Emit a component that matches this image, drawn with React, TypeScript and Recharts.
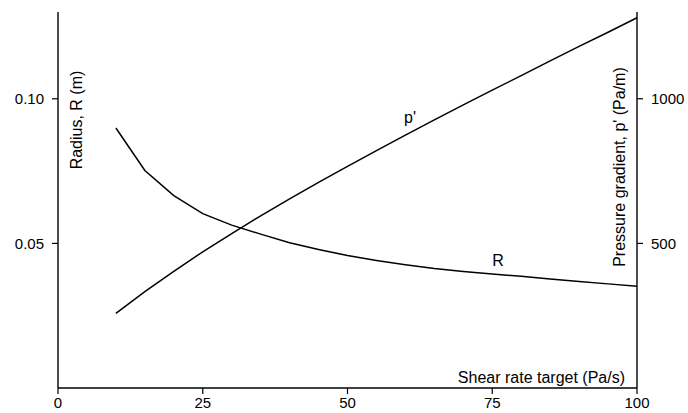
import React from 'react';
import { LineChart, Line, XAxis, YAxis, ReferenceDot, Label } from 'recharts';

const shearRate = [10, 15, 20, 25, 30, 35, 40, 45, 50, 55, 60, 65, 70, 75, 80, 85, 90, 95, 100];
const radius = [0.0899, 0.0752, 0.0665, 0.0603, 0.0563, 0.0532, 0.0502, 0.0479, 0.0458, 0.0441, 0.0426, 0.0413, 0.0403, 0.0394, 0.0386, 0.0377, 0.0368, 0.036, 0.0352];
const pressureGradient = [258, 333, 403, 471, 534, 595, 654, 711, 766, 821, 874, 927, 979, 1030, 1080, 1131, 1181, 1230, 1280];
const xTicks = [0, 25, 50, 75, 100];
const radiusTicks = [0.05, 0.1];
const pressureTicks = [500, 1000];

const data = shearRate.map((x, i) => ({ x, R: radius[i], p: pressureGradient[i] }));

const FONT = '"Liberation Sans", Arial, Helvetica, sans-serif';
const tickStyle = { fill: '#000', fontSize: 15, fontFamily: FONT };

export default function App() {
  return (
    <div style={{ position: 'absolute', left: 0, top: 0, width: 688, height: 413, background: '#fff' }}>
      <LineChart width={688} height={413} data={data} margin={{ top: 12, right: 0, bottom: 0, left: 0 }}>
        <XAxis
          dataKey="x"
          type="number"
          domain={[0, 100]}
          ticks={xTicks}
          height={25}
          tickSize={6}
          tickMargin={3}
          tick={tickStyle}
          axisLine={{ stroke: '#000', strokeWidth: 1.4 }}
          tickLine={{ stroke: '#000', strokeWidth: 1.2 }}
        >
          <Label
            content={() => (
              <text x={625} y={383} textAnchor="end" fontSize={16} fontFamily={FONT} fill="#000">
                Shear rate target (Pa/s)
              </text>
            )}
          />
        </XAxis>
        <YAxis
          yAxisId="left"
          orientation="left"
          type="number"
          domain={[0, 0.13]}
          allowDataOverflow
          ticks={radiusTicks}
          tickFormatter={(v: number) => v.toFixed(2)}
          width={58}
          tickSize={6}
          tickMargin={8}
          tick={tickStyle}
          axisLine={{ stroke: '#000', strokeWidth: 1.4 }}
          tickLine={{ stroke: '#000', strokeWidth: 1.2 }}
        >
          <Label
            content={() => (
              <text x={82} y={120} transform="rotate(-90 82 120)" textAnchor="middle" fontSize={16} fontFamily={FONT} fill="#000">
                Radius, R (m)
              </text>
            )}
          />
        </YAxis>
        <YAxis
          yAxisId="right"
          orientation="right"
          type="number"
          domain={[0, 1300]}
          allowDataOverflow
          ticks={pressureTicks}
          width={51}
          tickSize={6}
          tickMargin={8}
          tick={tickStyle}
          axisLine={{ stroke: '#000', strokeWidth: 1.4 }}
          tickLine={{ stroke: '#000', strokeWidth: 1.2 }}
        >
          <Label
            content={() => (
              <text x={625} y={167} transform="rotate(-90 625 167)" textAnchor="middle" fontSize={16} fontFamily={FONT} fill="#000">
                Pressure gradient, p' (Pa/m)
              </text>
            )}
          />
        </YAxis>
        <Line
          yAxisId="left"
          dataKey="R"
          type="linear"
          stroke="#000"
          strokeWidth={1.5}
          dot={false}
          isAnimationActive={false}
        />
        <Line
          yAxisId="right"
          dataKey="p"
          type="linear"
          stroke="#000"
          strokeWidth={1.5}
          dot={false}
          isAnimationActive={false}
        />
        <ReferenceDot
          yAxisId="right"
          x={60.8}
          y={937}
          r={0}
          fill="none"
          stroke="none"
          label={{ value: "p'", position: 'center', fill: '#000', fontSize: 16, fontFamily: FONT }}
        />
        <ReferenceDot
          yAxisId="left"
          x={76}
          y={0.0441}
          r={0}
          fill="none"
          stroke="none"
          label={{ value: 'R', position: 'center', fill: '#000', fontSize: 16, fontFamily: FONT }}
        />
      </LineChart>
    </div>
  );
}
